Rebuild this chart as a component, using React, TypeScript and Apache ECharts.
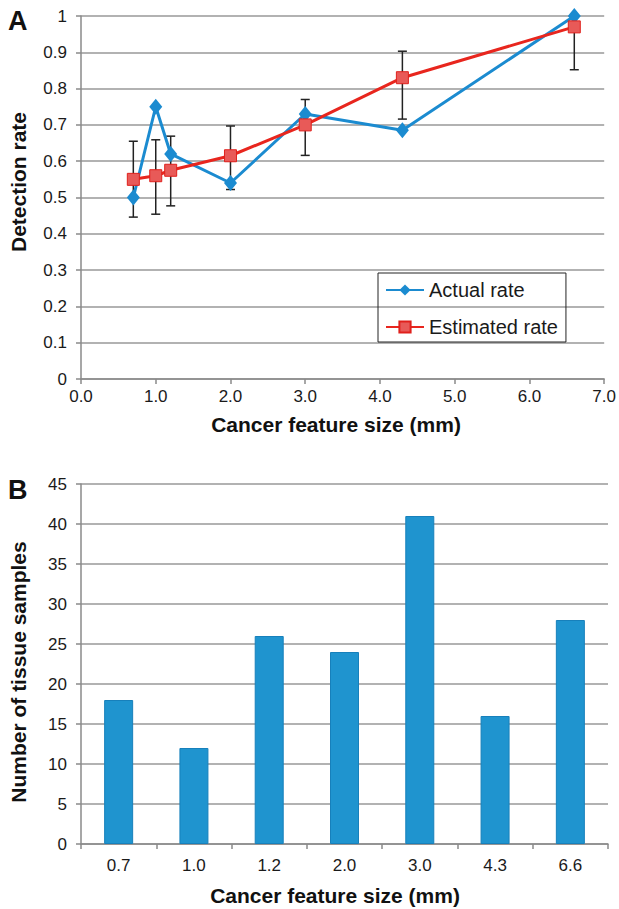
import React, { useEffect, useRef } from "react";
import * as echarts from "echarts";

const sizes = [0.7, 1.0, 1.2, 2.0, 3.0, 4.3, 6.6];
const actualRate = [0.5, 0.75, 0.62, 0.54, 0.73, 0.685, 1.0];
const estimatedRate = [0.55, 0.56, 0.575, 0.615, 0.7, 0.83, 0.97];
const errLow = [0.446, 0.454, 0.477, 0.522, 0.616, 0.716, 0.852];
const errHigh = [0.655, 0.659, 0.669, 0.697, 0.77, 0.903, 0.97];

const sizeLabels = ["0.7", "1.0", "1.2", "2.0", "3.0", "4.3", "6.6"];
const sampleCounts = [18, 12, 26, 24, 41, 16, 28];

const FONT = "'Liberation Sans', Arial, Helvetica, sans-serif";
const BLUE = "#1b8bd0";
const RED = "#e8261e";
const BAR = "#1f94cf";
const GRID = "#999999";
const AXIS = "#8a8a8a";
const TEXT = "#1a1a1a";

export default function App() {
  const ref = useRef<HTMLDivElement>(null);
  useEffect(() => {
    const chart = echarts.init(ref.current!, null, { renderer: "svg" });
    const option: any = {
      animation: false,
      backgroundColor: "#ffffff",
      textStyle: { fontFamily: FONT },
      grid: [
        { left: 81, top: 16, width: 524, height: 363 },
        { left: 81, top: 484, width: 527, height: 360 },
      ],
      legend: {
        data: ["Actual rate", "Estimated rate"],
        orient: "vertical",
        left: 378,
        top: 273,
        borderColor: "#222",
        borderWidth: 1,
        padding: [7, 8, 5, 7],
        itemGap: 17,
        itemWidth: 38,
        itemHeight: 14,
        textStyle: { fontSize: 20, color: TEXT, fontFamily: FONT },
      },
      xAxis: [
        {
          gridIndex: 0,
          type: "value",
          min: 0,
          max: 7,
          interval: 1,
          axisLine: { lineStyle: { color: AXIS, width: 1.5 } },
          axisTick: { show: true, inside: false, length: 5, lineStyle: { color: AXIS, width: 1.5 } },
          splitLine: { show: false },
          axisLabel: {
            formatter: (v: number) => v.toFixed(1),
            fontSize: 17,
            color: TEXT,
            margin: 9,
          },
        },
        {
          gridIndex: 1,
          type: "category",
          data: sizeLabels,
          boundaryGap: true,
          axisLine: { lineStyle: { color: AXIS, width: 1.5 } },
          axisTick: { show: true, alignWithLabel: false, length: 5, lineStyle: { color: AXIS, width: 1.5 } },
          axisLabel: { fontSize: 17, color: TEXT, margin: 13 },
        },
      ],
      yAxis: [
        {
          gridIndex: 0,
          type: "value",
          min: 0,
          max: 1,
          interval: 0.1,
          axisLine: { show: true, lineStyle: { color: AXIS, width: 1.5 } },
          axisTick: { show: true, length: 5, lineStyle: { color: AXIS, width: 1.5 } },
          splitLine: { show: true, lineStyle: { color: GRID, width: 1.5 } },
          axisLabel: {
            fontSize: 17,
            color: TEXT,
            margin: 14,
            formatter: (v: number) => String(Math.round(v * 10) / 10),
          },
        },
        {
          gridIndex: 1,
          type: "value",
          min: 0,
          max: 45,
          interval: 5,
          axisLine: { show: true, lineStyle: { color: AXIS, width: 1.5 } },
          axisTick: { show: true, length: 5, lineStyle: { color: AXIS, width: 1.5 } },
          splitLine: { show: true, lineStyle: { color: GRID, width: 1.5 } },
          axisLabel: { fontSize: 17, color: TEXT, margin: 14 },
        },
      ],
      series: [
        {
          name: "errors",
          type: "custom",
          xAxisIndex: 0,
          yAxisIndex: 0,
          z: 1,
          encode: { x: 0, y: [1, 2] },
          data: sizes.map((s, i) => [s, errLow[i], errHigh[i]]),
          renderItem: (params: any, api: any) => {
            const x = api.value(0);
            const lo = api.coord([x, api.value(1)]);
            const hi = api.coord([x, api.value(2)]);
            const cap = 4.5;
            const style = { stroke: "#222", lineWidth: 1.5 };
            return {
              type: "group",
              children: [
                { type: "line", shape: { x1: lo[0], y1: lo[1], x2: hi[0], y2: hi[1] }, style },
                { type: "line", shape: { x1: lo[0] - cap, y1: lo[1], x2: lo[0] + cap, y2: lo[1] }, style },
                { type: "line", shape: { x1: hi[0] - cap, y1: hi[1], x2: hi[0] + cap, y2: hi[1] }, style },
              ],
            };
          },
        },
        {
          name: "Actual rate",
          type: "line",
          xAxisIndex: 0,
          yAxisIndex: 0,
          z: 2,
          data: sizes.map((s, i) => [s, actualRate[i]]),
          symbol: "diamond",
          symbolSize: [13, 16],
          lineStyle: { color: BLUE, width: 3 },
          itemStyle: { color: BLUE },
        },
        {
          name: "Estimated rate",
          type: "line",
          xAxisIndex: 0,
          yAxisIndex: 0,
          z: 3,
          data: sizes.map((s, i) => [s, estimatedRate[i]]),
          symbol: "rect",
          symbolSize: 12,
          lineStyle: { color: RED, width: 3 },
          itemStyle: { color: "#e85a58", borderColor: "#e0201c", borderWidth: 1 },
        },
        {
          name: "samples",
          type: "bar",
          xAxisIndex: 1,
          yAxisIndex: 1,
          data: sampleCounts,
          barWidth: 29,
          itemStyle: { color: BAR, borderColor: "#1780bb", borderWidth: 1 },
        },
      ],
      graphic: [
        {
          type: "text",
          left: 8,
          top: 7,
          style: { text: "A", font: `bold 27px ${FONT}`, fill: "#111" },
        },
        {
          type: "text",
          left: 8,
          top: 476,
          style: { text: "B", font: `bold 27px ${FONT}`, fill: "#111" },
        },
        {
          type: "text",
          x: 18,
          y: 182,
          rotation: Math.PI / 2,
          style: {
            text: "Detection rate",
            font: `bold 21px ${FONT}`,
            fill: "#111",
            textAlign: "center",
            textVerticalAlign: "middle",
          },
        },
        {
          type: "text",
          x: 18,
          y: 672,
          rotation: Math.PI / 2,
          style: {
            text: "Number of tissue samples",
            font: `bold 21px ${FONT}`,
            fill: "#111",
            textAlign: "center",
            textVerticalAlign: "middle",
          },
        },
        {
          type: "text",
          x: 336,
          y: 424,
          style: {
            text: "Cancer feature size (mm)",
            font: `bold 21px ${FONT}`,
            fill: "#111",
            textAlign: "center",
            textVerticalAlign: "middle",
          },
        },
        {
          type: "text",
          x: 335,
          y: 895,
          style: {
            text: "Cancer feature size (mm)",
            font: `bold 21px ${FONT}`,
            fill: "#111",
            textAlign: "center",
            textVerticalAlign: "middle",
          },
        },
      ],
    };
    chart.setOption(option);
    return () => chart.dispose();
  }, []);
  return (
    <div
      ref={ref}
      style={{ position: "absolute", left: 0, top: 0, width: 619, height: 909, background: "#fff" }}
    />
  );
}
